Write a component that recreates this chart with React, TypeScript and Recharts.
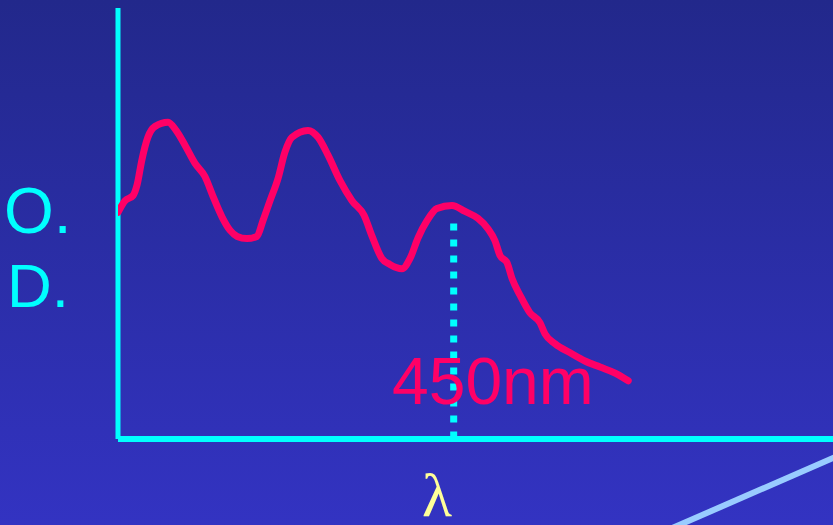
import { LineChart, Line, XAxis, YAxis, ReferenceLine } from 'recharts'

// absorption spectrum (wavelength in nm, optical density 0..1)
const wavelengths = [
  350, 352.1, 354.5, 355.7, 357.1, 358.9, 361.0, 364.9, 367.3, 370.0,
  372.9, 375.9, 378.3, 381.0, 383.4, 385.5, 388.4, 391.4, 393.2, 395.3,
  397.7, 399.7, 401.8, 406.6, 409.6, 412.6, 416.1, 419.7, 423.3, 425.7,
  428.6, 431.0, 434.6, 437.0, 439.4, 442.1, 445.0, 449.5, 453.4, 457.2,
  460.2, 462.3, 463.8, 465.9, 467.4, 469.8, 472.7, 475.7, 477.2, 480.2,
  484.7, 489.1, 493.6, 498.1, 502.0,
]
const opticalDensity = [
  0.526, 0.553, 0.565, 0.59, 0.647, 0.7, 0.725, 0.735, 0.716, 0.681,
  0.64, 0.609, 0.563, 0.515, 0.484, 0.47, 0.465, 0.47, 0.507, 0.553,
  0.605, 0.665, 0.7, 0.716, 0.7, 0.658, 0.6, 0.553, 0.519, 0.47,
  0.419, 0.405, 0.395, 0.419, 0.467, 0.507, 0.535, 0.542, 0.528, 0.512,
  0.488, 0.46, 0.426, 0.409, 0.372, 0.333, 0.293, 0.27, 0.244, 0.221,
  0.2, 0.181, 0.167, 0.153, 0.135,
]
const xMin = 350
const xMax = 563
const peakNm = 450
const peakTop = 0.5
const peakLabel = '450nm'
const yLabel = ['O.', 'D.']
const xLabel = 'λ'

const data = wavelengths.map((nm, i) => ({ nm, od: opticalDensity[i] }))

export default function App() {
  return (
    <div
      style={{
        position: 'absolute',
        left: 0,
        top: 0,
        width: 833,
        height: 525,
        overflow: 'hidden',
        background: 'linear-gradient(to bottom, #22288b, #3333c2)',
      }}
    >
      <LineChart width={833} height={525} data={data} margin={{ top: 8, right: 0, left: 118, bottom: 86 }}>
        <XAxis type="number" dataKey="nm" domain={[xMin, xMax]} allowDataOverflow hide />
        <YAxis type="number" domain={[0, 1]} hide />
        {/* axes drawn as reference lines so they sit exactly on the plot edges */}
        <ReferenceLine x={xMin} stroke="#00ffff" strokeWidth={5} />
        <ReferenceLine y={0} stroke="#00ffff" strokeWidth={6} />
        <ReferenceLine
          segment={[{ x: peakNm, y: peakTop }, { x: peakNm, y: 0 }]}
          stroke="#00ffff"
          strokeWidth={7}
          strokeDasharray="7 9"
        />
        <Line
          type="monotone"
          dataKey="od"
          stroke="#ff0066"
          strokeWidth={7}
          strokeLinejoin="round"
          strokeLinecap="round"
          dot={false}
          isAnimationActive={false}
        />
      </LineChart>
      <svg
        width={833}
        height={525}
        style={{ position: 'absolute', left: 0, top: 0, pointerEvents: 'none' }}
      >
        <text x={392} y={404} fontFamily="'Liberation Sans', Arial, sans-serif" fontSize={66} fill="#ff0066">
          {peakLabel}
        </text>
        <text x={4} y={233} fontFamily="'Liberation Sans', Arial, sans-serif" fontSize={64} fill="#00ffff">
          {yLabel[0]}
        </text>
        <text x={7} y={307} fontFamily="'Liberation Sans', Arial, sans-serif" fontSize={62} fill="#00ffff">
          {yLabel[1]}
        </text>
        <text x={422} y={516} fontFamily="'Liberation Serif', 'Times New Roman', serif" fontSize={62} fill="#ffff99">
          {xLabel}
        </text>
        <line x1={670} y1={529} x2={840} y2={455} stroke="#99ccff" strokeWidth={6} />
      </svg>
    </div>
  )
}
